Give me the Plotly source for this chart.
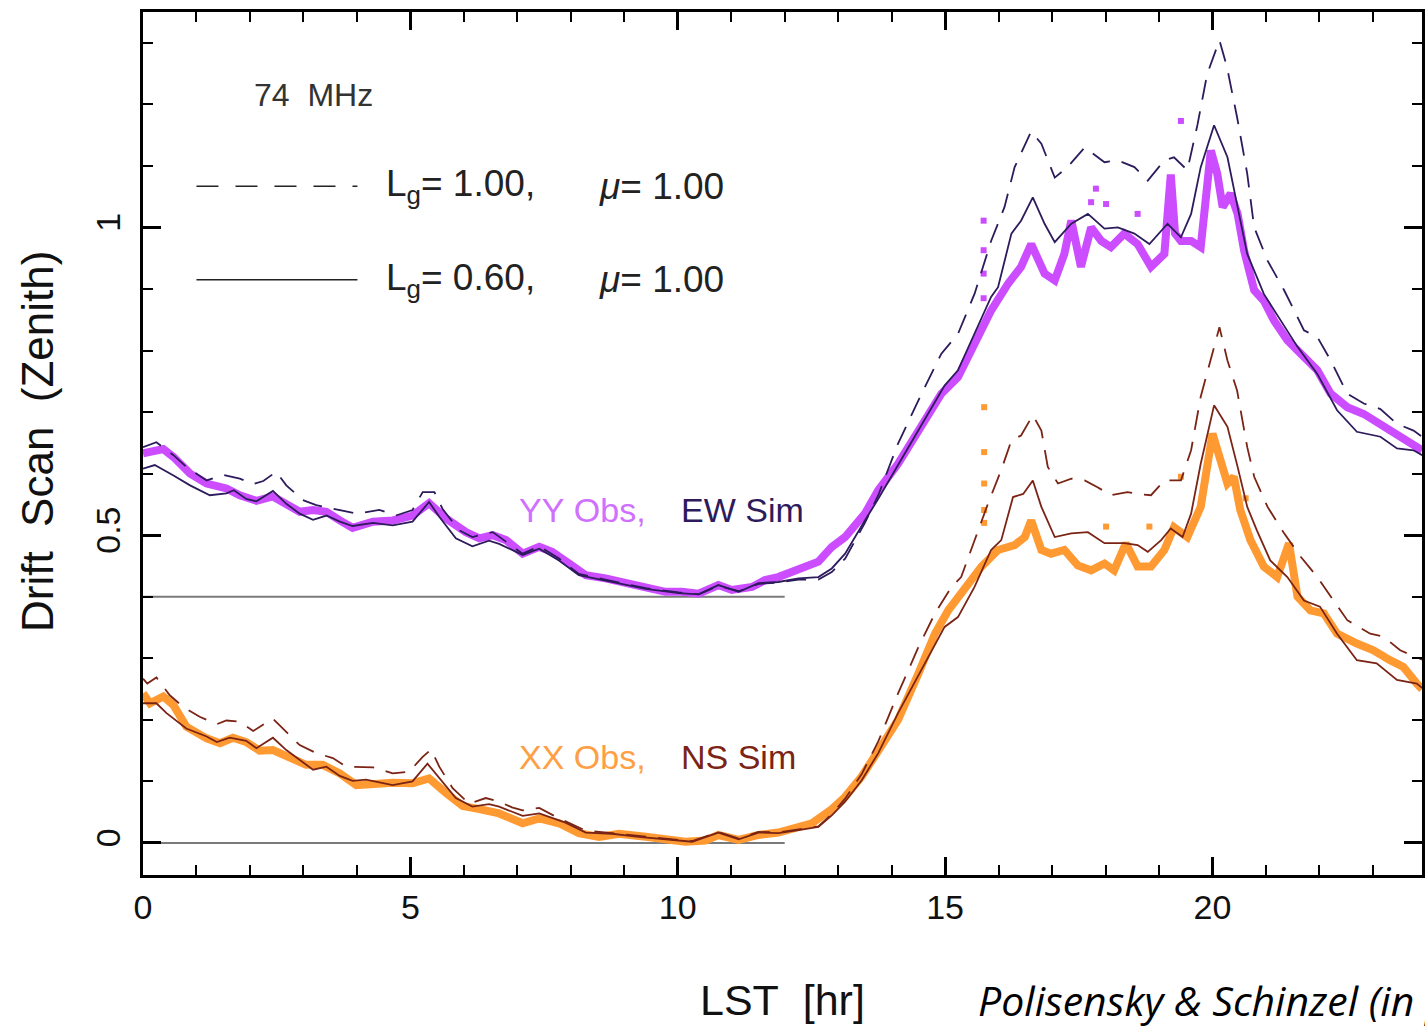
import plotly.graph_objects as go

# ---------------- data ----------------
yy_obs_x = [0.00, 0.20, 0.38, 0.57, 0.88, 1.19, 1.56, 1.81, 2.12, 2.43, 2.68, 2.93, 3.18, 3.43, 3.68, 3.92,
            4.30, 4.67, 5.04, 5.35, 5.67, 6.04, 6.29, 6.54, 6.79, 7.10, 7.41, 7.65, 7.97, 8.28, 8.65, 9.02,
            9.40, 9.77, 10.08, 10.39, 10.76, 11.01, 11.39, 11.63, 11.88, 12.26, 12.63, 12.88, 13.13, 13.50,
            13.75, 14.12, 14.50, 14.93, 15.24, 15.55, 15.86, 16.18, 16.42, 16.61, 16.86, 17.05, 17.23, 17.36,
            17.54, 17.73, 17.92, 18.10, 18.35, 18.60, 18.85, 19.10, 19.22, 19.30, 19.41, 19.60, 19.78, 19.97,
            20.09, 20.19, 20.34, 20.47, 20.59, 20.78, 20.96, 21.15, 21.40, 21.65, 21.96, 22.21, 22.52, 22.83,
            23.14, 23.45, 23.76, 23.92]
yy_obs_y = [0.633, 0.636, 0.640, 0.627, 0.600, 0.584, 0.576, 0.565, 0.556, 0.563, 0.549, 0.538, 0.541, 0.538,
            0.524, 0.512, 0.522, 0.524, 0.532, 0.552, 0.527, 0.505, 0.495, 0.500, 0.492, 0.470, 0.481, 0.473,
            0.454, 0.435, 0.430, 0.422, 0.413, 0.408, 0.408, 0.405, 0.419, 0.411, 0.416, 0.427, 0.432, 0.446,
            0.457, 0.481, 0.497, 0.535, 0.573, 0.616, 0.670, 0.730, 0.757, 0.811, 0.865, 0.909, 0.936, 0.973,
            0.925, 0.914, 0.957, 1.011, 0.936, 1.000, 0.978, 0.968, 0.990, 0.973, 0.936, 0.957, 1.086, 0.990,
            0.978, 0.978, 0.968, 1.125, 1.087, 1.033, 1.055, 1.022, 0.963, 0.898, 0.881, 0.849, 0.817, 0.795,
            0.768, 0.730, 0.708, 0.697, 0.681, 0.665, 0.646, 0.638]

ew_sim_060_x = [0.00, 0.22, 0.57, 0.88, 1.25, 1.56, 1.70, 1.93, 2.12, 2.43, 2.68, 2.93, 3.18, 3.43, 3.68, 3.92,
                4.30, 4.67, 5.04, 5.35, 5.54, 5.85, 6.16, 6.47, 6.66, 7.10, 7.41, 7.78, 8.15, 8.77, 9.40, 10.02,
                10.39, 10.76, 11.14, 11.51, 11.88, 12.26, 12.63, 12.88, 13.13, 13.50, 13.75, 14.12, 14.68,
                14.99, 15.24, 15.55, 15.86, 15.99, 16.24, 16.42, 16.64, 16.86, 17.05, 17.36, 17.67, 17.98,
                18.23, 18.54, 18.82, 19.16, 19.41, 19.60, 19.78, 20.03, 20.28, 20.47, 20.65, 20.96, 21.27,
                21.59, 21.96, 22.33, 22.70, 23.14, 23.45, 23.76, 23.92]
ew_sim_060_y = [0.608, 0.614, 0.597, 0.581, 0.565, 0.568, 0.573, 0.559, 0.555, 0.572, 0.551, 0.535, 0.525,
                0.532, 0.522, 0.515, 0.520, 0.516, 0.522, 0.554, 0.530, 0.495, 0.482, 0.491, 0.486, 0.468,
                0.478, 0.459, 0.435, 0.424, 0.413, 0.406, 0.404, 0.419, 0.408, 0.422, 0.424, 0.430, 0.432,
                0.446, 0.470, 0.524, 0.559, 0.614, 0.697, 0.743, 0.768, 0.827, 0.887, 0.903, 0.990, 1.011,
                1.049, 1.006, 0.976, 1.006, 1.022, 0.998, 1.000, 0.990, 0.973, 1.006, 0.984, 1.022, 1.098,
                1.166, 1.114, 1.033, 0.957, 0.892, 0.849, 0.806, 0.762, 0.703, 0.668, 0.660, 0.641, 0.638,
                0.630]

ew_sim_100_x = [0.00, 0.25, 0.57, 0.81, 1.19, 1.50, 1.81, 2.06, 2.25, 2.49, 2.68, 2.99, 3.24, 3.68, 3.99,
                4.42, 4.73, 5.04, 5.23, 5.45, 5.60, 5.91, 6.16, 6.54, 7.10, 7.41, 7.78, 8.15, 8.77, 9.40,
                10.02, 10.39, 10.76, 11.14, 11.51, 11.88, 12.26, 12.63, 12.88, 13.13, 13.50, 13.75, 14.12,
                14.56, 14.93, 15.24, 15.55, 15.86, 16.11, 16.30, 16.61, 16.80, 17.05, 17.29, 17.61, 17.98,
                18.23, 18.54, 18.79, 19.10, 19.28, 19.53, 19.72, 19.90, 20.13, 20.27, 20.46, 20.65, 20.78,
                21.03, 21.34, 21.71, 21.96, 22.21, 22.52, 22.83, 23.14, 23.45, 23.76, 23.92]
ew_sim_100_y = [0.643, 0.651, 0.630, 0.611, 0.589, 0.598, 0.592, 0.583, 0.588, 0.603, 0.581, 0.557, 0.549,
                0.541, 0.535, 0.541, 0.532, 0.541, 0.570, 0.570, 0.543, 0.508, 0.497, 0.505, 0.470, 0.482,
                0.462, 0.437, 0.425, 0.414, 0.407, 0.404, 0.418, 0.409, 0.421, 0.423, 0.428, 0.428, 0.440,
                0.462, 0.520, 0.565, 0.649, 0.730, 0.795, 0.827, 0.892, 0.978, 1.033, 1.098, 1.156, 1.136,
                1.081, 1.098, 1.130, 1.106, 1.109, 1.098, 1.076, 1.109, 1.114, 1.093, 1.167, 1.249, 1.304,
                1.261, 1.179, 1.087, 1.000, 0.946, 0.898, 0.833, 0.822, 0.784, 0.730, 0.714, 0.705, 0.681,
                0.670, 0.660]

xx_obs_x = [0.00, 0.13, 0.38, 0.57, 0.81, 1.19, 1.44, 1.68, 1.93, 2.18, 2.43, 2.68, 3.05, 3.36, 3.68, 3.99,
            4.30, 4.67, 5.04, 5.35, 5.67, 5.98, 6.29, 6.66, 7.10, 7.41, 7.78, 8.15, 8.53, 8.90, 9.40, 9.77,
            10.14, 10.52, 10.76, 11.14, 11.51, 11.88, 12.20, 12.51, 12.88, 13.13, 13.44, 13.75, 14.12, 14.50,
            14.81, 15.06, 15.37, 15.68, 15.99, 16.30, 16.49, 16.61, 16.80, 16.98, 17.23, 17.48, 17.73, 17.98,
            18.16, 18.38, 18.60, 18.85, 19.10, 19.28, 19.53, 19.78, 20.00, 20.12, 20.28, 20.40, 20.52, 20.71,
            20.96, 21.21, 21.43, 21.59, 21.83, 22.08, 22.33, 22.70, 23.01, 23.32, 23.57, 23.82, 23.92]
xx_obs_y = [0.243, 0.227, 0.238, 0.224, 0.189, 0.170, 0.162, 0.171, 0.164, 0.150, 0.151, 0.140, 0.127, 0.127,
            0.113, 0.094, 0.097, 0.098, 0.097, 0.105, 0.081, 0.060, 0.055, 0.048, 0.032, 0.040, 0.032, 0.016,
            0.010, 0.015, 0.010, 0.006, 0.002, 0.004, 0.013, 0.005, 0.013, 0.017, 0.025, 0.032, 0.055, 0.075,
            0.108, 0.151, 0.200, 0.275, 0.340, 0.378, 0.416, 0.449, 0.476, 0.484, 0.497, 0.524, 0.476, 0.470,
            0.476, 0.451, 0.443, 0.454, 0.443, 0.487, 0.449, 0.449, 0.476, 0.513, 0.497, 0.546, 0.665, 0.627,
            0.584, 0.595, 0.541, 0.492, 0.449, 0.432, 0.487, 0.400, 0.378, 0.373, 0.340, 0.324, 0.313, 0.297,
            0.286, 0.259, 0.250]

ns_sim_060_x = [0.00, 0.25, 0.44, 0.81, 1.19, 1.38, 1.62, 1.93, 2.12, 2.43, 2.68, 2.93, 3.18, 3.43, 3.68,
                3.92, 4.17, 4.67, 5.04, 5.32, 5.54, 5.85, 6.16, 6.47, 6.66, 7.10, 7.41, 7.90, 8.28, 8.77,
                9.27, 9.77, 10.27, 10.76, 11.14, 11.51, 11.88, 12.26, 12.63, 12.88, 13.13, 13.44, 13.75,
                14.12, 14.56, 14.99, 15.24, 15.55, 15.86, 16.05, 16.27, 16.46, 16.64, 16.80, 17.05, 17.36,
                17.67, 17.98, 18.35, 18.60, 18.79, 19.04, 19.22, 19.44, 19.60, 19.78, 20.03, 20.28, 20.47,
                20.65, 20.83, 21.08, 21.40, 21.71, 22.01, 22.33, 22.70, 23.07, 23.45, 23.82, 23.92]
ns_sim_060_y = [0.227, 0.227, 0.211, 0.186, 0.173, 0.164, 0.171, 0.166, 0.154, 0.171, 0.151, 0.135, 0.119,
                0.124, 0.109, 0.101, 0.103, 0.094, 0.100, 0.129, 0.105, 0.073, 0.059, 0.063, 0.059, 0.044,
                0.048, 0.033, 0.017, 0.015, 0.010, 0.006, 0.002, 0.017, 0.006, 0.017, 0.016, 0.021, 0.026,
                0.045, 0.067, 0.102, 0.146, 0.211, 0.281, 0.351, 0.367, 0.416, 0.476, 0.492, 0.562, 0.567,
                0.589, 0.546, 0.497, 0.503, 0.505, 0.487, 0.487, 0.484, 0.473, 0.492, 0.511, 0.497, 0.535,
                0.616, 0.711, 0.676, 0.611, 0.546, 0.508, 0.459, 0.432, 0.394, 0.384, 0.340, 0.297, 0.292,
                0.265, 0.259, 0.252]

ns_sim_100_x = [0.00, 0.08, 0.25, 0.50, 0.75, 1.06, 1.38, 1.56, 1.81, 2.06, 2.43, 2.62, 2.93, 3.24, 3.55,
                3.80, 4.30, 4.67, 4.98, 5.23, 5.39, 5.54, 5.79, 6.10, 6.41, 6.66, 6.90, 7.10, 7.41, 7.78,
                8.28, 8.77, 9.27, 9.77, 10.27, 10.76, 11.14, 11.51, 11.88, 12.26, 12.63, 12.88, 13.13, 13.44,
                13.75, 14.12, 14.50, 14.81, 15.12, 15.30, 15.55, 15.80, 16.05, 16.24, 16.42, 16.64, 16.80,
                16.92, 17.11, 17.36, 17.61, 17.85, 18.10, 18.41, 18.60, 18.85, 19.10, 19.41, 19.60, 19.78,
                20.13, 20.28, 20.46, 20.65, 20.78, 21.03, 21.34, 21.65, 21.96, 22.21, 22.52, 22.95, 23.20,
                23.51, 23.82, 23.92]
ns_sim_100_y = [0.267, 0.259, 0.269, 0.240, 0.221, 0.205, 0.193, 0.199, 0.197, 0.182, 0.202, 0.186, 0.159,
                0.146, 0.138, 0.124, 0.123, 0.113, 0.116, 0.140, 0.152, 0.124, 0.089, 0.064, 0.073, 0.067,
                0.058, 0.053, 0.057, 0.040, 0.020, 0.016, 0.011, 0.007, 0.003, 0.018, 0.007, 0.018, 0.017,
                0.022, 0.027, 0.047, 0.072, 0.112, 0.165, 0.243, 0.318, 0.373, 0.416, 0.432, 0.492, 0.551,
                0.606, 0.654, 0.662, 0.695, 0.670, 0.611, 0.584, 0.592, 0.589, 0.578, 0.565, 0.570, 0.567,
                0.565, 0.589, 0.589, 0.638, 0.725, 0.838, 0.784, 0.735, 0.643, 0.595, 0.546, 0.503, 0.465,
                0.432, 0.400, 0.362, 0.340, 0.335, 0.313, 0.302, 0.298]

yy_outlier_x = [15.72, 15.72, 15.72, 15.72, 17.73, 17.82, 18.01, 18.60, 19.41]
yy_outlier_y = [1.011, 0.963, 0.925, 0.885, 1.041, 1.063, 1.038, 1.022, 1.173]
xx_outlier_x = [15.73, 15.73, 15.73, 15.73, 15.73, 18.01, 18.82, 19.41, 20.62]
xx_outlier_y = [0.708, 0.635, 0.584, 0.541, 0.520, 0.514, 0.514, 0.595, 0.560]

baseline_levels = [0.4, 0.0]
baseline_end = 12.0

x_tick_vals = [0, 5, 10, 15, 20]
y_tick_vals = [0, 0.5, 1]
y_tick_text = ["0", "0.5", "1"]

# ---------------- styles ----------------
C_YY = "#CC4DFF"
C_YY_TXT = "#D070FF"
C_EW = "#2D1B5C"
C_XX = "#FF9A33"
C_XX_TXT = "#FF9F45"
C_NS = "#7B2415"
DASH = "20px,12px"
FONT = "Liberation Sans, Arial, sans-serif"

fig = go.Figure()

for lvl in baseline_levels:
    fig.add_trace(go.Scatter(x=[0, baseline_end], y=[lvl, lvl], mode="lines",
                             line=dict(color="#7a7a7a", width=2), hoverinfo="skip"))

fig.add_trace(go.Scatter(x=yy_obs_x, y=yy_obs_y, mode="lines", line=dict(color=C_YY, width=8)))
fig.add_trace(go.Scatter(x=xx_obs_x, y=xx_obs_y, mode="lines", line=dict(color=C_XX, width=8)))
fig.add_trace(go.Scatter(x=yy_outlier_x, y=yy_outlier_y, mode="markers",
                         marker=dict(color=C_YY, size=6, symbol="square")))
fig.add_trace(go.Scatter(x=xx_outlier_x, y=xx_outlier_y, mode="markers",
                         marker=dict(color=C_XX, size=6, symbol="square")))

fig.add_trace(go.Scatter(x=ew_sim_100_x, y=ew_sim_100_y, mode="lines",
                         line=dict(color=C_EW, width=1.8, dash=DASH)))
fig.add_trace(go.Scatter(x=ew_sim_060_x, y=ew_sim_060_y, mode="lines",
                         line=dict(color=C_EW, width=1.8)))
fig.add_trace(go.Scatter(x=ns_sim_100_x, y=ns_sim_100_y, mode="lines",
                         line=dict(color=C_NS, width=1.8, dash=DASH)))
fig.add_trace(go.Scatter(x=ns_sim_060_x, y=ns_sim_060_y, mode="lines",
                         line=dict(color=C_NS, width=1.8)))

# legend samples
fig.add_shape(type="line", xref="x", yref="y", x0=1.0, x1=4.01, y0=1.067, y1=1.067,
              line=dict(color="#222222", width=1.6, dash="22px,17px"))
fig.add_shape(type="line", xref="x", yref="y", x0=1.0, x1=4.01, y0=0.915, y1=0.915,
              line=dict(color="#222222", width=1.6))

ann_font = dict(family=FONT, size=37, color="#222222")
annotations = [
    dict(x=2.03, y=1.215, text="74\u00a0\u00a0MHz", font=dict(family=FONT, size=32, color="#333333")),
    dict(x=4.51, y=1.067, text="L<sub>g</sub>=\u00a01.00,", font=ann_font),
    dict(x=8.49, y=1.067, text="<i>\u03bc</i>=\u00a01.00", font=ann_font),
    dict(x=4.51, y=0.915, text="L<sub>g</sub>=\u00a00.60,", font=ann_font),
    dict(x=8.49, y=0.915, text="<i>\u03bc</i>=\u00a01.00", font=ann_font),
    dict(x=7.0, y=0.541, text="YY\u00a0Obs,", font=dict(family=FONT, size=34, color=C_YY_TXT)),
    dict(x=10.02, y=0.541, text="EW\u00a0Sim", font=dict(family=FONT, size=34, color=C_EW)),
    dict(x=7.0, y=0.140, text="XX\u00a0Obs,", font=dict(family=FONT, size=34, color=C_XX_TXT)),
    dict(x=10.02, y=0.140, text="NS\u00a0Sim", font=dict(family=FONT, size=34, color=C_NS)),
]
for a in annotations:
    fig.add_annotation(xref="x", yref="y", xanchor="left", yanchor="middle", showarrow=False, **a)

fig.add_annotation(xref="paper", yref="paper", x=0.5, y=-0.1448, xanchor="center", yanchor="middle",
                   showarrow=False, text="LST\u00a0\u00a0[hr]", font=dict(family=FONT, size=43, color="#111111"))
fig.add_annotation(xref="paper", yref="paper", x=0.651, y=-0.1448, xanchor="left", yanchor="middle",
                   showarrow=False, text="<i>Polisensky & Schinzel (in prep.)</i>",
                   font=dict(family="Open Sans, Lato, sans-serif", size=41, color="#000000"))
fig.add_annotation(xref="paper", yref="paper", x=-0.0819, y=0.502, xanchor="center", yanchor="middle",
                   showarrow=False, textangle=-90, text="Drift\u00a0\u00a0Scan\u00a0\u00a0(Zenith)",
                   font=dict(family=FONT, size=44, color="#111111"))

axis_common = dict(showgrid=False, zeroline=False, showline=True, linecolor="black", linewidth=3,
                   mirror="ticks", ticks="inside", ticklen=18, tickwidth=2.5, tickcolor="black",
                   tickfont=dict(family=FONT, size=34, color="#111111"))

fig.update_xaxes(range=[0, 23.918], tickvals=x_tick_vals, ticklabelstandoff=0,
                 minor=dict(dtick=1, tick0=0, ticks="inside", ticklen=10, tickwidth=2, tickcolor="black"),
                 **axis_common)
fig.update_yaxes(range=[-0.052, 1.350], tickvals=y_tick_vals, ticktext=y_tick_text, tickangle=-90,
                 ticklabelstandoff=6,
                 minor=dict(dtick=0.1, tick0=0, ticks="inside", ticklen=10, tickwidth=2, tickcolor="black"),
                 **axis_common)

fig.update_layout(width=1425, height=1026, margin=dict(l=143, r=0, t=12, b=151),
                  paper_bgcolor="white", plot_bgcolor="white", showlegend=False)

fig.write_html("out.html")
